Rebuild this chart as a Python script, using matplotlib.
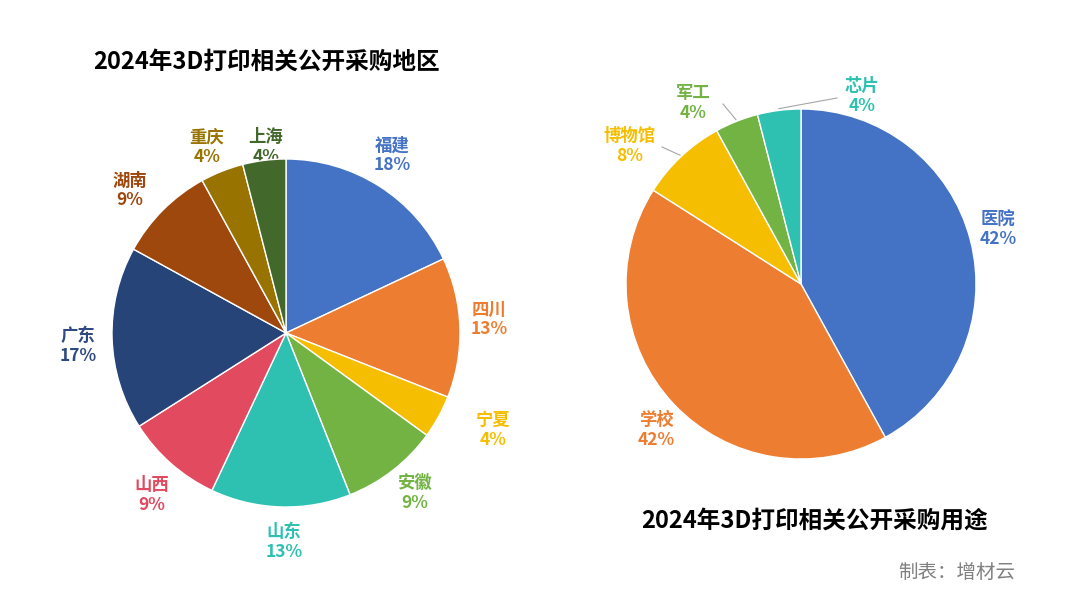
import matplotlib
matplotlib.use("Agg")
import matplotlib.pyplot as plt
import numpy as np

plt.rcParams['font.family'] = ['Noto Sans CJK SC', 'DejaVu Sans']

# Data
region_names = ['福建', '四川', '宁夏', '安徽', '山东', '山西', '广东', '湖南', '重庆', '上海']
region_values = [18, 13, 4, 9, 13, 9, 17, 9, 4, 4]
region_colors = ['#4472C4', '#ED7D31', '#F5BE00', '#72B343', '#2EC0B1',
                 '#E24A60', '#264478', '#9E480E', '#997300', '#43682B']

use_names = ['医院', '学校', '博物馆', '军工', '芯片']
use_values = [42, 42, 8, 4, 4]
use_colors = ['#4472C4', '#ED7D31', '#F5BE00', '#72B343', '#2EC0B1']

title_left = '2024年3D打印相关公开采购地区'
title_right = '2024年3D打印相关公开采购用途'
source_text = '制表：增材云'

W, H = 1080, 608
fig = plt.figure(figsize=(W / 100, H / 100), dpi=100)
fig.patch.set_facecolor('white')


def pie_axes(cx, cy, r):
    ax = fig.add_axes([(cx - r) / W, (H - cy - r) / H, 2 * r / W, 2 * r / H])
    ax.axis('off')
    return ax


def draw_pie(ax, values, colors):
    wedges, _ = ax.pie(values, colors=colors, startangle=90, counterclock=False,
                       radius=1.0, wedgeprops=dict(edgecolor='white', linewidth=1.0),
                       normalize=True)
    ax.set_xlim(-1, 1)
    ax.set_ylim(-1, 1)
    ax.set_aspect('equal')
    return wedges


label_style = dict(fontsize=12.5, fontweight='bold', ha='center', va='center',
                   linespacing=1.1)

# Left pie (center 286,333 px; radius 174 px)
RL = 174
axL = pie_axes(286, 333, RL)
wL = draw_pie(axL, region_values, region_colors)
posL = [(106, 178), (203, 14), (207, -97), (129, -160), (-2, -209),
        (-134, -162), (-208, -13), (-156, 143), (-79, 186), (-20, 186)]
text_colors_L = list(region_colors)
text_colors_L[6] = '#2F4A82'
for name, v, (dx, dy), c in zip(region_names, region_values, posL, text_colors_L):
    z = 0 if name == '上海' else 3
    axL.text(dx / RL, dy / RL, f'{name}\n{v}%', color=c, clip_on=False,
             zorder=z, **label_style)

# Right pie (center 801,284 px; radius 175 px)
RR = 175
axR = pie_axes(801, 284, RR)
wR = draw_pie(axR, use_values, use_colors)
posR = [(197, 55), (-145, -146), (-171, 138), (-108, 181), (61, 188)]
leader_start = {'博物馆': (-139, 137), '军工': (-78, 180), '芯片': (36, 186)}
for w, name, v, (dx, dy), c in zip(wR, use_names, use_values, posR, use_colors):
    axR.text(dx / RR, dy / RR, f'{name}\n{v}%', color=c, clip_on=False, **label_style)
    if name in leader_start:
        ang = np.deg2rad((w.theta1 + w.theta2) / 2)
        ex, ey = np.cos(ang), np.sin(ang)
        sx, sy = leader_start[name]
        axR.plot([sx / RR, ex * 1.01], [sy / RR, ey * 1.01], color='#A6A6A6',
                 lw=0.8, clip_on=False)

# Titles
fig.text(266 / W, 1 - 62 / H, title_left, fontsize=17, fontweight='bold',
         ha='center', va='center', color='black')
fig.text(815 / W, 1 - 521 / H, title_right, fontsize=17, fontweight='bold',
         ha='center', va='center', color='black')
fig.text(957 / W, 1 - 572 / H, source_text, fontsize=14, ha='center', va='center',
         color='#808080')

fig.savefig('out.png', dpi=100, facecolor='white')
